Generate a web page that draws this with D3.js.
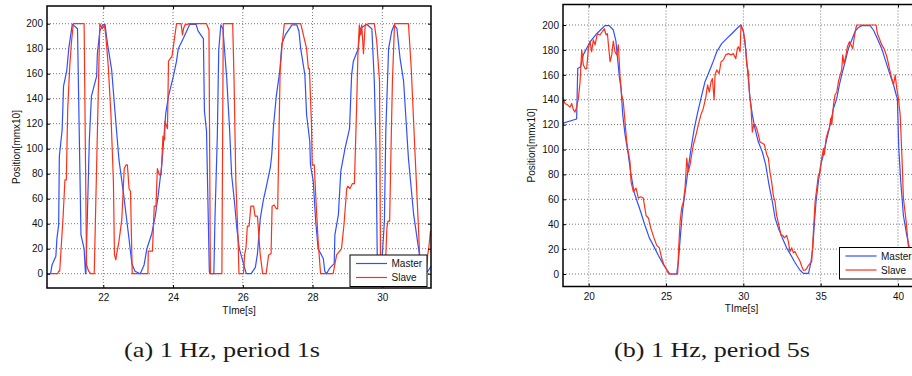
<!DOCTYPE html>
<head>
  <meta charset="utf-8">
  <title>Master / Slave position</title>
  <script src="https://d3js.org/d3.v7.min.js"></script>
</head>
<body style="margin:0;background:#fff">
  <script>
    // panel (a): 1 Hz, period 1s  -- [time s, position mm x10]
    var masterA = [[20.38,0],[20.49,0],[20.53,7],[20.64,14],[20.67,28],[20.72,39],[20.74,94],[20.82,115],[20.86,150],[20.95,162],[21.01,180],[21.11,199.5],[21.18,198],[21.26,196],[21.36,31],[21.45,20],[21.49,0],[21.50,0],[21.60,107],[21.66,142],[21.81,158],[21.83,176],[21.90,194],[21.98,199],[22.05,199.5],[22.12,184],[22.24,163],[22.34,128],[22.45,91],[22.58,64],[22.72,32],[22.82,8],[22.91,2],[23.06,0],[23.17,7],[23.25,20],[23.39,32],[23.49,46],[23.58,64],[23.68,88],[23.79,128],[23.87,142],[24.01,158],[24.10,170],[24.15,180],[24.29,188],[24.48,199.5],[24.66,199.5],[24.72,194],[24.87,188],[24.90,130],[24.96,114],[25.04,2],[25.06,0],[25.17,0],[25.20,42],[25.27,111],[25.31,179],[25.37,199],[25.43,196],[25.54,156],[25.62,116],[25.68,79],[25.76,58],[25.83,36],[25.90,20],[26.00,10],[26.10,0],[26.24,0],[26.36,5],[26.42,16],[26.50,44],[26.59,59],[26.67,69],[26.79,85],[26.83,95],[26.88,118],[26.96,142],[27.06,162],[27.12,184],[27.22,191],[27.41,199],[27.55,199],[27.61,194],[27.66,180],[27.78,159],[27.83,127],[27.92,106],[27.94,87],[28.02,74],[28.09,42],[28.16,20],[28.31,12],[28.35,2],[28.40,0],[28.48,4],[28.62,8],[28.64,31],[28.74,47],[28.81,82],[28.93,100],[29.06,116],[29.12,159],[29.17,170],[29.31,180],[29.36,196],[29.55,199.5],[29.70,196],[29.77,154],[29.82,100],[29.86,0],[29.97,0],[30.00,15],[30.06,42],[30.10,114],[30.18,180],[30.27,194],[30.34,199],[30.42,196],[30.51,172],[30.61,154],[30.75,92],[30.90,47],[31.04,20],[31.09,10],[31.18,2],[31.25,0],[31.33,3],[31.42,7]];
    var slaveA = [[20.38,0],[20.69,0],[20.72,2],[20.75,2],[20.85,47],[20.90,75],[20.94,75],[20.98,132],[21.04,167],[21.09,186],[21.14,200],[21.45,200],[21.52,7],[21.58,2],[21.64,0],[21.74,0],[21.90,200],[21.97,196],[22.03,199],[22.07,191],[22.14,167],[22.22,127],[22.29,74],[22.32,15],[22.36,11],[22.38,15],[22.45,26],[22.53,43],[22.60,84],[22.65,87],[22.69,87],[22.74,68],[22.78,66],[22.83,0],[23.28,0],[23.29,18],[23.41,18],[23.46,54],[23.51,54],[23.55,84],[23.61,79],[23.66,79],[23.71,110],[23.76,107],[23.77,122],[23.84,116],[23.87,170],[23.92,172],[23.97,174],[24.00,180],[24.10,200],[24.23,200],[24.27,191],[24.30,196],[24.34,199],[24.48,200],[24.96,200],[25.03,195],[25.07,0],[25.40,0],[25.44,200],[25.71,200],[25.75,154],[25.80,74],[25.86,31],[25.89,0],[26.02,0],[26.05,15],[26.09,20],[26.13,38],[26.18,38],[26.23,54],[26.31,54],[26.35,46],[26.42,46],[26.50,15],[26.57,0],[26.67,0],[26.74,15],[26.81,16],[26.84,54],[26.90,55],[26.96,52],[27.00,52],[27.07,162],[27.13,184],[27.19,200],[27.66,200],[27.83,180],[27.88,164],[27.91,164],[27.97,119],[27.99,87],[28.05,87],[28.09,63],[28.16,26],[28.23,0],[28.59,0],[28.69,15],[28.83,20],[28.90,39],[28.98,68],[29.01,70],[29.07,68],[29.14,72],[29.20,72],[29.27,140],[29.30,175],[29.34,199],[29.38,191],[29.41,199],[29.46,176],[29.51,199],[29.60,200],[29.77,200],[29.84,186],[29.92,154],[29.95,0],[30.08,0],[30.13,36],[30.16,42],[30.21,42],[30.25,100],[30.29,154],[30.35,200],[30.75,200],[30.83,164],[30.94,95],[31.02,47],[31.07,15],[31.12,0],[31.26,0],[31.30,15],[31.33,20],[31.38,34],[31.42,28]];

    // panel (b): 1 Hz, period 5s
    var masterB = [[18.31,121],[19.22,124.5],[19.29,165],[19.48,166.5],[19.65,176],[19.98,184],[20.19,188],[20.52,193],[20.84,197],[21.05,199.5],[21.33,199.5],[21.59,196],[21.76,187],[21.98,158.5],[22.09,149],[22.20,128],[22.35,112],[22.56,96],[22.71,82],[22.93,66],[23.14,58],[23.36,50],[23.64,39],[23.92,29],[24.18,23],[24.50,15],[24.78,8.6],[25.08,3],[25.25,0],[25.69,0],[25.80,10],[25.90,26],[26.06,50],[26.27,69],[26.44,85],[26.62,101],[26.83,117],[27.05,130],[27.26,141],[27.52,154.5],[27.74,161],[28.00,169],[28.28,178.5],[28.60,185],[28.92,189],[29.25,193],[29.57,197],[29.83,200],[30.00,195],[30.15,181],[30.28,162.5],[30.43,141],[30.58,128],[30.75,117],[30.97,106],[31.23,98],[31.45,87.5],[31.66,71.5],[31.88,58],[32.05,45],[32.26,37],[32.52,29],[32.80,21],[33.08,15],[33.30,10],[33.45,7],[33.67,3],[33.88,0.5],[34.21,0.5],[34.36,8.6],[34.49,21],[34.60,42],[34.70,58],[34.85,74],[35.00,87.5],[35.18,96],[35.35,106],[35.50,114],[35.65,122],[35.83,133],[36.04,141],[36.21,152],[36.36,160],[36.58,170.5],[36.79,181],[37.01,188],[37.23,195],[37.44,198],[37.66,199.5],[38.20,199.5],[38.41,196],[38.67,189],[38.95,181],[39.28,168],[39.49,160],[39.71,152],[39.88,144],[39.96,141],[40.05,101],[40.18,74],[40.35,47],[40.57,31],[40.74,21],[40.91,15],[41.10,12]];
    var slaveB = [[18.31,142],[18.47,137],[18.62,136],[18.79,134],[18.90,137],[19.01,132],[19.11,130],[19.22,134],[19.33,141],[19.44,154],[19.55,180],[19.65,168],[19.76,165],[19.87,165],[19.98,181],[20.08,187],[20.19,178.5],[20.30,188],[20.41,184],[20.56,193],[20.73,192],[20.90,195],[21.01,197],[21.12,192],[21.21,193],[21.38,170.5],[21.49,176],[21.59,187],[21.70,178.5],[21.81,176],[21.92,184],[22.02,160],[22.13,144],[22.24,138],[22.35,122],[22.46,106],[22.52,101],[22.67,90],[22.74,74],[22.89,66],[23.06,69],[23.21,61],[23.36,62],[23.53,61],[23.71,47],[23.86,45],[24.01,37],[24.22,29],[24.40,23],[24.57,21],[24.72,12.6],[24.87,7],[25.00,4.5],[25.08,2],[25.21,0],[25.75,0],[25.82,21],[25.91,42],[26.01,53],[26.12,58],[26.23,69],[26.34,93],[26.44,82],[26.55,87.5],[26.66,96],[26.77,104],[26.88,109],[26.98,114],[27.09,120],[27.26,128],[27.41,133],[27.56,141],[27.69,152],[27.80,146],[27.91,154.5],[28.00,157],[28.11,140],[28.17,160],[28.28,164],[28.43,161],[28.56,170.5],[28.71,172],[28.86,176],[29.03,177],[29.20,176],[29.35,177],[29.51,173],[29.61,181],[29.68,182.6],[29.79,178.5],[29.85,200],[30.00,195],[30.11,187],[30.22,168],[30.32,162.5],[30.39,146],[30.50,133],[30.58,114],[30.67,120],[30.75,120],[30.86,117],[30.97,112],[31.08,106],[31.23,105],[31.36,104],[31.51,96],[31.62,93],[31.72,82],[31.83,74],[31.94,63],[32.05,58],[32.15,47],[32.30,39],[32.44,31],[32.55,31],[32.65,29],[32.80,31],[32.91,26],[33.02,18],[33.13,21],[33.24,17],[33.34,18],[33.45,15],[33.56,12.6],[33.67,10],[33.78,6],[33.88,3],[33.99,3],[34.10,4.5],[34.21,7],[34.32,8.6],[34.42,10],[34.53,34],[34.64,58],[34.75,69],[34.85,79.5],[34.96,82],[35.07,93],[35.18,101],[35.24,96],[35.35,109],[35.46,114],[35.56,117],[35.65,125],[35.72,120],[35.83,136],[35.93,144],[36.04,146],[36.15,154.5],[36.26,160],[36.36,164],[36.43,176],[36.51,169],[36.62,174.5],[36.73,182.6],[36.86,186.6],[36.97,184],[37.07,181],[37.16,189],[37.27,197],[37.33,200],[38.58,200],[38.67,193],[38.80,189],[38.95,184],[39.10,181],[39.28,174.5],[39.45,165],[39.60,157],[39.71,152],[39.82,160],[39.92,149],[40.03,141],[40.14,128],[40.25,96],[40.35,61],[40.53,42],[40.68,21],[40.79,21],[40.89,15],[41.10,12]];

    var yTicks = [0, 20, 40, 60, 80, 100, 120, 140, 160, 180, 200];
    var xTicksA = [22, 24, 26, 28, 30];
    var xTicksB = [20, 25, 30, 35, 40];
    var seriesNames = ['Master', 'Slave'];
    var colors = ['#3050ff', '#ff3018'];
    var captions = ['(a)  1 Hz, period 1s', '(b)  1 Hz, period 5s'];

    var sans = "'Liberation Sans', Arial, Helvetica, sans-serif";
    var serif = "'Times New Roman', 'Liberation Serif', Times, serif";

    var width = 912;
    var height = 376;

    var svg = d3.select('body').append('svg').attr('width', width).attr('height', height)
      .attr('font-family', sans);

    function drawPanel(id, box, xdom, ydom, xTicks, master, slave, leg, yLabelX, caption) {
      var x = d3.scaleLinear().domain(xdom).range([box.left, box.right]);
      var y = d3.scaleLinear().domain(ydom).range([box.bottom, box.top]);
      var g = svg.append('g');

      g.append('clipPath').attr('id', id)
        .append('rect')
        .attr('x', box.left).attr('y', box.top)
        .attr('width', box.right - box.left).attr('height', box.bottom - box.top);

      // dotted grid
      g.selectAll('.gx').data(xTicks).enter().append('line')
        .attr('x1', function(d) {return x(d);}).attr('x2', function(d) {return x(d);})
        .attr('y1', box.top).attr('y2', box.bottom)
        .attr('stroke', '#777').attr('stroke-dasharray', '1,2');
      g.selectAll('.gy').data(yTicks).enter().append('line')
        .attr('x1', box.left).attr('x2', box.right)
        .attr('y1', function(d) {return y(d);}).attr('y2', function(d) {return y(d);})
        .attr('stroke', '#777').attr('stroke-dasharray', '1,2');

      var line = d3.line()
        .x(function(d) {return x(d[0]);})
        .y(function(d) {return y(d[1]);});

      [master, slave].forEach(function(s, i) {
        g.append('path')
          .datum(s)
          .attr('clip-path', 'url(#' + id + ')')
          .attr('d', line)
          .attr('fill', 'none')
          .attr('stroke', colors[i])
          .attr('stroke-width', 1.2)
          .attr('stroke-linejoin', 'round');
      });

      // axes
      g.append('g')
        .attr('transform', 'translate(0,' + box.bottom + ')')
        .call(d3.axisBottom(x).tickValues(xTicks).tickSize(-3).tickPadding(6));
      g.append('g')
        .attr('transform', 'translate(' + box.left + ',0)')
        .call(d3.axisLeft(y).tickValues(yTicks).tickSize(-3).tickPadding(4));
      g.append('g')
        .attr('transform', 'translate(0,' + box.top + ')')
        .call(d3.axisTop(x).tickValues(xTicks).tickSize(-3).tickFormat(''));
      g.append('g')
        .attr('transform', 'translate(' + box.right + ',0)')
        .call(d3.axisRight(y).tickValues(yTicks).tickSize(-3).tickFormat(''));
      g.selectAll('.domain').remove();
      g.selectAll('.tick line').attr('stroke', '#000');
      g.selectAll('.tick text').attr('font-size', 10).attr('fill', '#111')
        .attr('font-family', sans);

      g.append('rect')
        .attr('x', box.left).attr('y', box.top)
        .attr('width', box.right - box.left).attr('height', box.bottom - box.top)
        .attr('fill', 'none').attr('stroke', '#000').attr('stroke-width', 1.5);

      g.append('text')
        .attr('x', (box.left + box.right) / 2).attr('y', box.bottom + 25.5)
        .attr('text-anchor', 'middle').attr('font-size', 10).attr('fill', '#111')
        .text('TIme[s]');
      g.append('text')
        .attr('transform', 'translate(' + yLabelX + ',' + (box.top + box.bottom) / 2 + ') rotate(-90)')
        .attr('text-anchor', 'middle').attr('font-size', 10).attr('fill', '#111')
        .text('Position[mmx10]');

      // legend
      g.append('rect')
        .attr('x', leg.x).attr('y', leg.y).attr('width', 77).attr('height', 31.5)
        .attr('fill', '#fff').attr('stroke', '#000').attr('stroke-width', 1);
      seriesNames.forEach(function(name, i) {
        var ly = leg.y + 8.5 + i * 14;
        g.append('line')
          .attr('x1', leg.x + 6).attr('x2', leg.x + 37)
          .attr('y1', ly).attr('y2', ly)
          .attr('stroke', colors[i]).attr('stroke-width', 1.2);
        g.append('text')
          .attr('x', leg.x + 41.5).attr('y', ly + 3.5)
          .attr('font-size', 10).attr('fill', '#111')
          .text(name);
      });

      svg.append('text')
        .attr('x', caption.x).attr('y', 357)
        .attr('font-family', serif)
        .attr('font-size', 21)
        .attr('textLength', 196).attr('lengthAdjust', 'spacingAndGlyphs')
        .attr('fill', '#1a1a1a')
        .text(caption.text);
    }

    drawPanel('clipA', {left: 47, right: 431, top: 6, bottom: 288},
      [20.386, 31.396], [-11.44, 214.16], xTicksA, masterA, slaveA,
      {x: 350, y: 255}, 19.5, {x: 124, text: captions[0]});

    drawPanel('clipB', {left: 563, right: 920, top: 4.5, bottom: 286.5},
      [18.338, 41.423], [-10.04, 216.47], xTicksB, masterB, slaveB,
      {x: 839.5, y: 247.5}, 535, {x: 614, text: captions[1]});
  </script>
</body>
